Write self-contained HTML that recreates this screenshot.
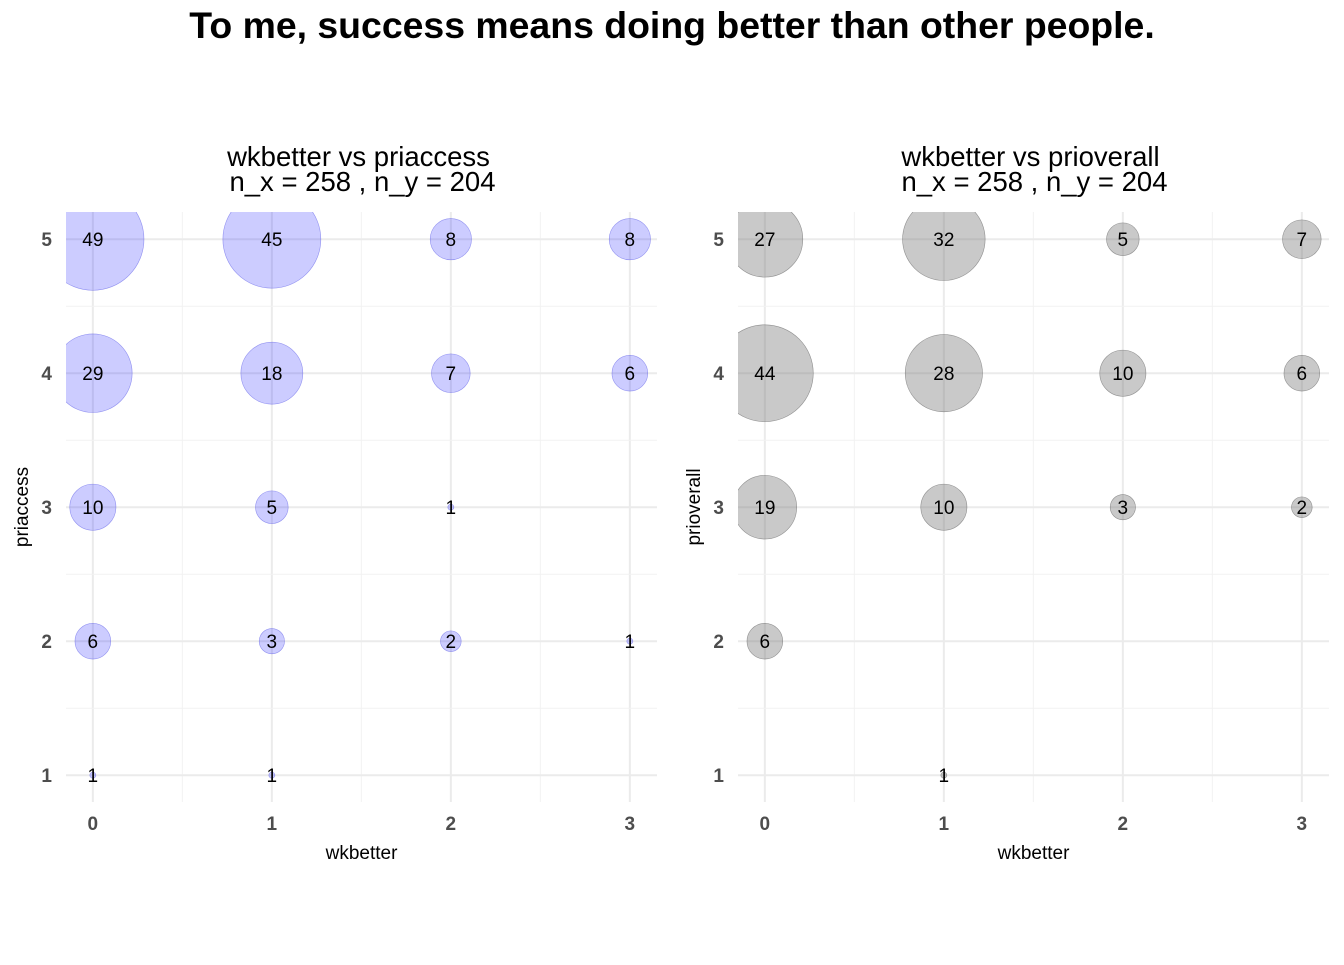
<!DOCTYPE html>
<html><head><meta charset="utf-8"><style>
body{margin:0;background:#fff;font-family:"Liberation Sans",Arial,sans-serif}
</style></head><body>
<svg width="1344" height="960" xmlns="http://www.w3.org/2000/svg" font-family="Liberation Sans, Arial, sans-serif">
<text x="672" y="38" text-anchor="middle" font-size="37.4" font-weight="bold">To me, success means doing better than other people.</text>
<g id="p1"></g>
<g id="p2"></g>
</svg>
<script>
const xCats=[0,1,2,3];
const yCats=[1,2,3,4,5];
const leftX=[0,1,2,3,0,1,2,3,0,1,2,0,1,2,3,0,1];
const leftY=[5,5,5,5,4,4,4,4,3,3,3,2,2,2,2,1,1];
const leftN=[49,45,8,8,29,18,7,6,10,5,1,6,3,2,1,1,1];
const rightX=[0,1,2,3,0,1,2,3,0,1,2,3,0,1];
const rightY=[5,5,5,5,4,4,4,4,3,3,3,3,2,1];
const rightN=[27,32,5,7,44,28,10,6,19,10,3,2,6,1];
const NS="http://www.w3.org/2000/svg";
function mk(tag,attrs,parent){const e=document.createElementNS(NS,tag);for(const k in attrs)e.setAttribute(k,attrs[k]);parent.appendChild(e);return e;}
function panel(gid,x0,title,ytitle,xs,ys,ns,fill,stroke,cid){
  const g=document.getElementById(gid);
  const L=x0,R=x0+591,T=212,B=802;
  const sx=v=>L+(v+0.15)*179;
  const sy=v=>B-(v-0.8)*134;
  const defs=mk('defs',{},g);
  const cp=mk('clipPath',{id:cid},defs);
  mk('rect',{x:L,y:T,width:R-L,height:B-T},cp);
  for(let i=0;i<xCats.length;i++){
    const l=mk('line',{x1:sx(xCats[i]),x2:sx(xCats[i]),y1:T,y2:B,stroke:'#ebebeb','stroke-width':2},g);
    
    
    if(i<xCats.length-1){const m=mk('line',{x1:sx(xCats[i]+0.5),x2:sx(xCats[i]+0.5),y1:T,y2:B,stroke:'#f2f2f2','stroke-width':1},g);
    
    }
    const t=mk('text',{x:sx(xCats[i]),y:830,'text-anchor':'middle','font-size':19,'font-weight':'bold',fill:'#4d4d4d'},g);
    t.textContent=xCats[i];
    
    
  }
  for(let i=0;i<yCats.length;i++){
    const l=mk('line',{x1:L,x2:R,y1:sy(yCats[i]),y2:sy(yCats[i]),stroke:'#ebebeb','stroke-width':2},g);
    
    
    if(i<yCats.length-1){const m=mk('line',{x1:L,x2:R,y1:sy(yCats[i]+0.5),y2:sy(yCats[i]+0.5),stroke:'#f2f2f2','stroke-width':1},g);
    
    }
    const t=mk('text',{x:L-14,y:sy(yCats[i])+7,'text-anchor':'end','font-size':19,'font-weight':'bold',fill:'#4d4d4d'},g);
    t.textContent=yCats[i];
    
    
  }
  const cg=mk('g',{'clip-path':'url(#'+cid+')'},g);
  for(let i=0;i<ns.length;i++){
    const r=ns[i]<=1?3:7.3*Math.sqrt(ns[i]);
    const c=mk('circle',{cx:sx(xs[i]),cy:sy(ys[i]),r:r,fill:fill,stroke:stroke,'stroke-width':0.6},cg);
    
    
  }
  for(let i=0;i<ns.length;i++){
    const t=mk('text',{x:sx(xs[i]),y:sy(ys[i])+7,'text-anchor':'middle','font-size':19,fill:'#000'},g);
    t.textContent=ns[i];
    
    
  }
  const cx=(L+R)/2-3;
  const t1=mk('text',{x:cx,y:166,'text-anchor':'middle','font-size':27.5},g);t1.textContent=title;
  
  
  const t2=mk('text',{x:cx+4,y:191,'text-anchor':'middle','font-size':27.5},g);t2.textContent='n_x = 258 , n_y = 204';
  
  
  const xt=mk('text',{x:cx+3,y:859,'text-anchor':'middle','font-size':19},g);xt.textContent='wkbetter';
  
  
  const yt=mk('text',{x:0,y:0,'text-anchor':'middle','font-size':19,transform:'translate('+(L-38)+',507) rotate(-90)'},g);yt.textContent=ytitle;
  
  
}
panel('p1',66,'wkbetter vs priaccess','priaccess',leftX,leftY,leftN,'rgba(0,0,255,0.2)','rgba(90,90,230,0.6)','c1');
panel('p2',738,'wkbetter vs prioverall','prioverall',rightX,rightY,rightN,'rgba(120,120,120,0.4)','rgba(90,90,90,0.6)','c2');
</script>
</body></html>
